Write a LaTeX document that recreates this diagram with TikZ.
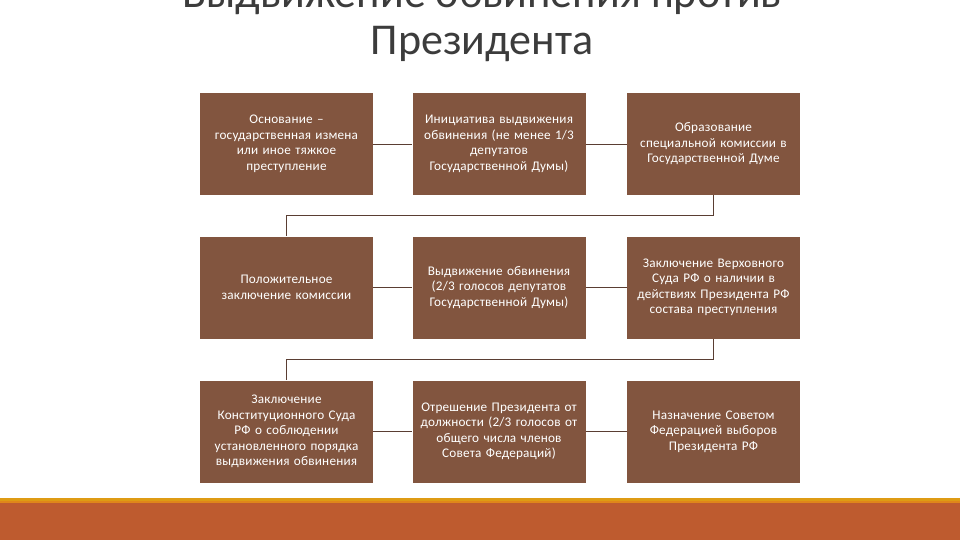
\documentclass[tikz,border=0pt]{standalone}
\usepackage{fontspec}
\setmainfont{Carlito}
\usepackage{tikz}

\definecolor{boxbrown}{HTML}{82553F}
\definecolor{linebrown}{HTML}{5A3E33}
\definecolor{titlegray}{HTML}{3C3C3C}
\definecolor{stripegold}{HTML}{DE9B14}
\definecolor{stripeorange}{HTML}{E0861A}
\definecolor{barred}{HTML}{BE5B2F}

\begin{document}
\begin{tikzpicture}[x=1pt,y=-1pt,
	stage/.style={fill=boxbrown, text=white, minimum width=173pt, minimum height=102pt,
		text width=166pt, align=center, inner sep=0pt,
		font=\fontsize{13.2}{15.5}\selectfont\addfontfeatures{LetterSpace=1.5}},
	link/.style={draw=linebrown, line width=0.8pt}]

			\useasboundingbox (0,0) rectangle (960,540);
			\clip (0,0) rectangle (960,540);

			\fill [barred] (0,503) rectangle (960,540);
			\fill [stripegold] (0,497.5) rectangle (960,500.5);
			\fill [stripeorange] (0,500.5) rectangle (960,503);

			\node[text=titlegray, align=center, anchor=base, inner sep=0pt,
				font=\fontsize{44}{47}\selectfont] (title) at (482,55)
				{Выдвижение обвинения против\\Президента};

			% first row
			\node[stage] (osn) at (286.5,144) {Основание --\\государственная измена\\или иное тяжкое\\преступление};
			\node[stage] (init) at (499,144) {Инициатива выдвижения\\обвинения (не менее 1/3\\депутатов\\Государственной Думы)};
			\node[stage] (obr) at (713.5,144) {Образование\\специальной комиссии в\\Государственной Думе};

			% second row
			\node[stage] (pol) at (286.5,287.5) {Положительное\\заключение комиссии};
			\node[stage] (vyd) at (499,287.5) {Выдвижение обвинения\\(2/3 голосов депутатов\\Государственной Думы)};
			\node[stage] (vs) at (713.5,287.5) {Заключение Верховного\\Суда РФ о наличии в\\действиях Президента РФ\\состава преступления};

			% third row
			\node[stage] (ks) at (286.5,431.5) {Заключение\\Конституционного Суда\\РФ о соблюдении\\установленного порядка\\выдвижения обвинения};
			\node[stage] (otr) at (499,431.5) {Отрешение Президента от\\должности (2/3 голосов от\\общего числа членов\\Совета Федераций)};
			\node[stage] (nazn) at (713.5,431.5) {Назначение Советом\\Федерацией выборов\\Президента РФ};

			\draw [link] (osn) -- (init);
			\draw [link] (init) -- (obr);
			\draw [link] (obr.south) -- ++(0,20) -| (pol.north);

			\draw [link] (pol) -- (vyd);
			\draw [link] (vyd) -- (vs);
			\draw [link] (vs.south) -- ++(0,20.5) -| (ks.north);

			\draw [link] (ks) -- (otr);
			\draw [link] (otr) -- (nazn);

	\end{tikzpicture}
\end{document}
